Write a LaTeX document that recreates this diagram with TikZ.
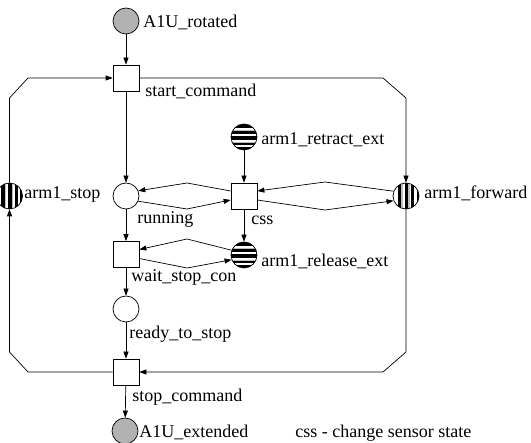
\documentclass[tikz,border=0pt]{standalone}
\usepackage{fontspec}
\setmainfont{Liberation Serif}
\newfontfamily\myserif{Liberation Serif}
\usetikzlibrary{arrows.meta}
\newcommand\myHstripes{%
  \begin{scope}[shift={(path picture bounding box.center)}]
    \fill[black] (-15,-15) rectangle (15,15);
    \fill[white] (-15,-8.5) rectangle (15,-6.5);
    \fill[gray!50] (-15,-6.5) rectangle (15,-5.5);
    \fill[white] (-15,-2.5) rectangle (15,-1);
    \fill[white] (-15,3) rectangle (15,5.5);
    \fill[gray!50] (-15,5.5) rectangle (15,6.5);
    \fill[white] (-15,8.5) rectangle (15,10);
  \end{scope}}
\newcommand\myVstripes{%
  \begin{scope}[shift={(path picture bounding box.center)}]
    \fill[white] (-15,-15) rectangle (15,15);
    \fill[black] (-8.5,-15) rectangle (-5,15);
    \fill[gray!50] (-5,-15) rectangle (-3.5,15);
    \fill[black] (-1.5,-15) rectangle (2,15);
    \fill[gray!50] (2,-15) rectangle (3.5,15);
    \fill[black] (5,-15) rectangle (8,15);
    \fill[black] (10.5,-15) rectangle (15,15);
  \end{scope}}
\begin{document}
\begin{tikzpicture}[x=1pt,y=-1pt,line width=0.7pt,
  every node/.style={font=\myserif\fontsize{18}{20}\selectfont},
  place/.style={circle,draw,fill=white,minimum size=26pt,inner sep=0pt},
  grayplace/.style={place,fill=gray!60},
  hplace/.style={place,path picture={\myHstripes}},
  vplace/.style={place,path picture={\myVstripes}},
  trans/.style={rectangle,draw,fill=white,minimum size=26pt,inner sep=0pt},
  lbl/.style={anchor=base west,inner sep=0pt},
  arc/.style={-{Triangle[length=7pt,width=5pt]}}]
\useasboundingbox (0,0) rectangle (531,443);
\clip (0,0) rectangle (531,443);

% corner coordinates
\coordinate (tl1) at (9.5,98);
\coordinate (tl2) at (28,78);
\coordinate (tr1) at (383,78);
\coordinate (tr2) at (406,98);
\coordinate (bl1) at (9.5,352);
\coordinate (bl2) at (28,372);
\coordinate (br1) at (406,352);
\coordinate (br2) at (383,372);
\coordinate (b1) at (187,183);
\coordinate (b2) at (187,209);
\coordinate (b3) at (325,182);
\coordinate (b4) at (325,210);
\coordinate (b5) at (187,239);
\coordinate (b6) at (187,268);

% nodes
\node[grayplace] (rot) at (126,21) {};
\node[trans] (start) at (126,78) {};
\node[vplace] (stop) at (9.5,196) {};
\node[vplace] (fwd) at (406,196) {};
\node[place] (run) at (126,196) {};
\node[trans] (css) at (244,196) {};
\node[hplace] (ret) at (244,137) {};
\node[hplace] (rel) at (244,255) {};
\node[trans] (wait) at (126,254.5) {};
\node[place] (ready) at (126,309) {};
\node[trans] (stopc) at (126,372) {};
\node[grayplace] (ext) at (125,431) {};

% connectors
\draw[arc] (rot) -- (start);
\draw[arc] (start) -- (run);
\draw[arc] (run) -- (wait);
\draw[arc] (wait) -- (ready);
\draw[arc] (ready) -- (stopc);
\draw[arc] (stopc) -- (ext);
\draw[arc] (ret) -- (css);
\draw[arc] (css) -- (rel);

\draw[arc] (start.east) -- (tr1) -- (tr2) -- (fwd.north);
\draw[arc] (fwd.south) -- (br1) -- (br2) -- (stopc.east);
\draw[arc] (stopc.west) -- (bl2) -- (bl1) -- (stop.south);
\draw[arc] (stop.north) -- (tl1) -- (tl2) -- (start.west);

\draw[arc] ([yshift=5pt]css.west) -- (b1) -- (run.23);
\draw[arc] (run.-23) -- (b2) -- ([yshift=-4pt]css.west);
\draw[arc] (fwd.159) -- (b3) -- ([yshift=5pt]css.east);
\draw[arc] ([yshift=-4pt]css.east) -- (b4) -- (fwd.-159);
\draw[arc] (rel.159) -- (b5) -- ([yshift=5pt]wait.east);
\draw[arc] ([yshift=-4pt]wait.east) -- (b6) -- (rel.-159);

% labels
\node[lbl] (lrot) at (143,28) {A1U\_rotated};
\node[lbl] (lstart) at (145,97) {start\_command};
\node[lbl] (lret) at (261,145) {arm1\_retract\_ext};
\node[lbl] (lfwd) at (424,199) {arm1\_forward};
\node[lbl] (lstop) at (24,199) {arm1\_stop};
\node[lbl] (lrun) at (137,224) {running};
\node[lbl] (lcss) at (251,225) {css};
\node[lbl] (lrel) at (261,267) {arm1\_release\_ext};
\node[lbl] (lwait) at (131,282) {wait\_stop\_con};
\node[lbl] (lready) at (129,339) {ready\_to\_stop};
\node[lbl] (lstopc) at (132,402) {stop\_command};
\node[lbl] (lext) at (139,438) {A1U\_extended};
\node[lbl] (legend) at (295,438) {css - change sensor state};
\end{tikzpicture}
\end{document}
